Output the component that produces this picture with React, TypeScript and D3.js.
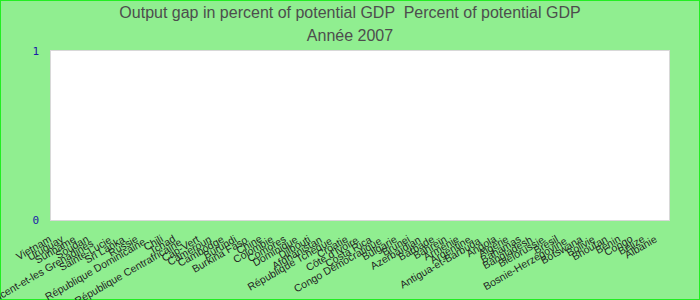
import React from "react";
import * as d3 from "d3";

const title = "Output gap in percent of potential GDP  Percent of potential GDP";
const subtitle = "Année 2007";
const countries = [
  "Vietnam", "Uruguay", "Suriname", "Soudan", "Saint-Vincent-et-les Grenadines",
  "Sainte-Lucie", "Sri Lanka", "Russie", "République Dominicaine", "Chili",
  "Tchad", "République Centrafricaine", "Cap-Vert", "Cameroun", "Cambodge",
  "Burundi", "Burkina Faso", "Chine", "Colombie", "Comores",
  "Dominique", "Djibouti", "Afghanistan", "République Tchèque", "Croatie",
  "Côte d'Ivoire", "Costa Rica", "Congo Démocratique", "Bulgarie", "Brunei",
  "Azerbaïdjan", "Barbade", "Bahreïn", "Arménie", "Argentine",
  "Antigua-et-Barbuda", "Angola", "Algérie", "Bahamas", "Bangladesh",
  "Biélorussie", "Brésil", "Bosnie-Herzégovine", "Botswana", "Bolivie",
  "Bhoutan", "Bénin", "Congo", "Belize", "Albanie",
];
const yTicks = [0, 1];

export default function App() {
  const W = 700, H = 300;
  const plot = { x0: 51, x1: 669, y0: 51, y1: 220 };
  const y = d3.scaleLinear().domain([0, 1]).range([plot.y1, plot.y0]);
  const x = d3.scaleBand<string>().domain(countries).range([plot.x0, plot.x1]);
  const ang = 30;
  const rad = (ang * Math.PI) / 180;
  const font = "Liberation Sans, Arial, sans-serif";
  return (
    <svg width={W} height={H} style={{ position: "absolute", left: 0, top: 0 }}>
      <rect x={0.5} y={0.5} width={W - 1} height={H - 1} fill="#90EE90" stroke="#22ee22" strokeWidth={1} />
      <text x={350} y={18} textAnchor="middle" fontFamily={font} fontSize={16} fill="#4d4d4d" style={{ whiteSpace: "pre" }}>{title}</text>
      <text x={350} y={41} textAnchor="middle" fontFamily={font} fontSize={16} fill="#4d4d4d">{subtitle}</text>
      <rect x={plot.x0 - 0.5} y={plot.y0 - 0.5} width={plot.x1 - plot.x0 + 1} height={plot.y1 - plot.y0 + 1} fill="#ffffff" stroke="#d8d8d8" strokeWidth={1} />
      {yTicks.map((t) => (
        <text key={t} x={39} y={y(t) + 4} textAnchor="end" fontFamily="DejaVu Sans Mono, monospace" fontSize={11} fill="#1a1aa8">{t}</text>
      ))}
      {countries.map((c) => {
        const s = 0.35 * c.length;
        const px = (x(c) as number) + x.bandwidth() / 2 - 3 - s * Math.cos(rad);
        const py = 240 + s * Math.sin(rad);
        return (
          <text key={c} transform={`translate(${px},${py}) rotate(${-ang})`} textAnchor="end" fontFamily={font} fontSize={10.5} fill="#222">{c}</text>
        );
      })}
    </svg>
  );
}
